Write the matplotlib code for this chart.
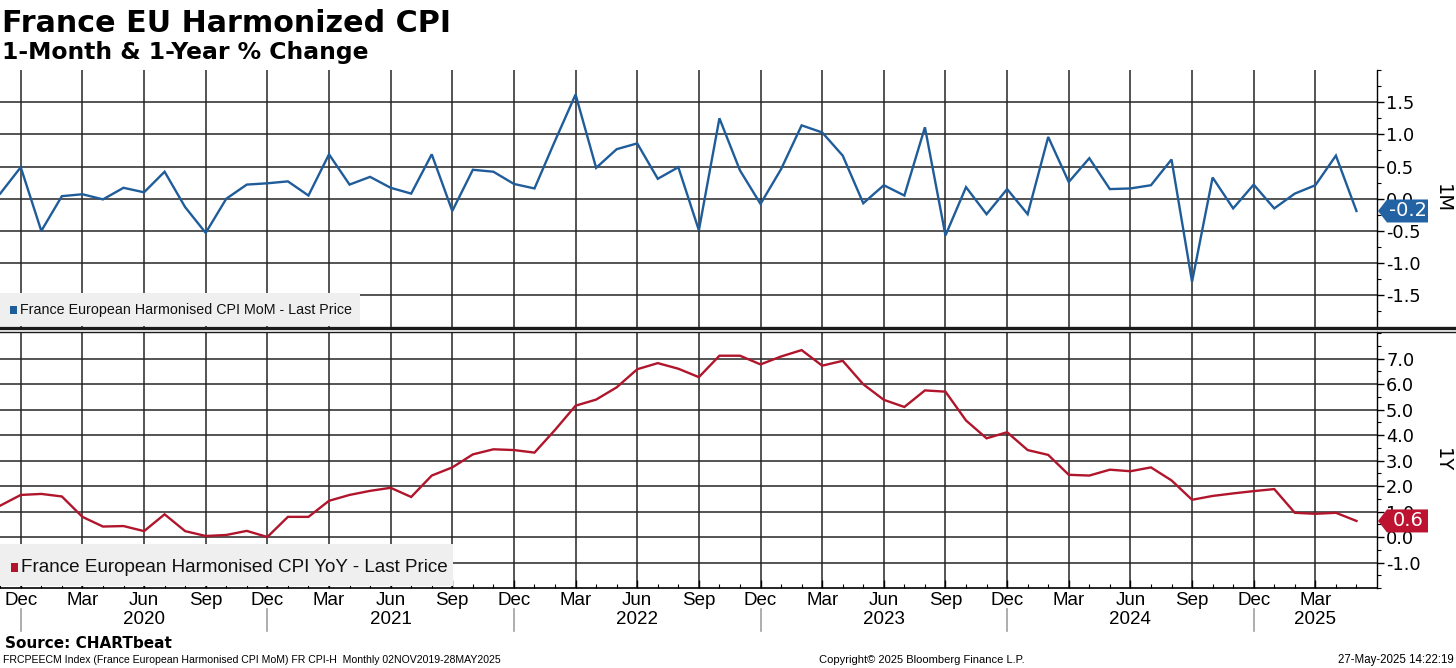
import matplotlib
matplotlib.use("Agg")
import matplotlib.pyplot as plt
from matplotlib.lines import Line2D
from matplotlib.patches import Polygon, Rectangle
import numpy as np
import pandas as pd

W, H = 1456, 668

# monthly observations, Nov 2019 .. May 2025
months = pd.period_range("2019-11", "2025-05", freq="M")

mom = [0.08, 0.49,
       -0.50, 0.04, 0.07, -0.01, 0.17, 0.10, 0.42, -0.13, -0.53, 0.00, 0.22, 0.24,
       0.27, 0.05, 0.69, 0.22, 0.34, 0.17, 0.08, 0.69, -0.19, 0.45, 0.42, 0.23,
       0.16, 0.90, 1.62, 0.48, 0.77, 0.86, 0.31, 0.49, -0.49, 1.25, 0.44, -0.08,
       0.46, 1.14, 1.03, 0.67, -0.07, 0.21, 0.05, 1.11, -0.57, 0.18, -0.24, 0.15,
       -0.24, 0.96, 0.26, 0.63, 0.15, 0.16, 0.21, 0.61, -1.29, 0.33, -0.15, 0.22,
       -0.15, 0.08, 0.21, 0.67, -0.19]

yoy = [1.23, 1.65,
       1.69, 1.59, 0.79, 0.41, 0.43, 0.23, 0.89, 0.23, 0.04, 0.08, 0.24, 0.00,
       0.79, 0.79, 1.42, 1.65, 1.81, 1.93, 1.57, 2.41, 2.73, 3.24, 3.44, 3.41,
       3.31, 4.20, 5.15, 5.39, 5.87, 6.58, 6.82, 6.60, 6.27, 7.11, 7.11, 6.77,
       7.08, 7.33, 6.72, 6.91, 5.99, 5.38, 5.10, 5.75, 5.70, 4.57, 3.87, 4.11,
       3.41, 3.22, 2.44, 2.41, 2.64, 2.58, 2.73, 2.22, 1.46, 1.61, 1.71, 1.80,
       1.88, 0.95, 0.91, 0.95, 0.63]

mom_ticks = [-1.5, -1.0, -0.5, 0.0, 0.5, 1.0, 1.5]
yoy_ticks = [-1.0, 0.0, 1.0, 2.0, 3.0, 4.0, 5.0, 6.0, 7.0]

mom_label = "France European Harmonised CPI MoM - Last Price"
yoy_label = "France European Harmonised CPI YoY - Last Price"

BLUE = "#1f5c9a"
RED = "#b0152c"
GRID = "#262626"
TICK_FONT = "DejaVu Sans"
AXIS_FONT = "Liberation Sans"
NARROW = ["Liberation Sans Narrow", "Liberation Sans", "DejaVu Sans"]

# pixel boxes of the two panels: (left, right, top, bottom)
TOP_BOX = (0, 1377, 70, 327.5)
BOT_BOX = (0, 1377, 331.5, 588)


def fig_xy(px, py):
    return px / W, 1 - py / H


def ax_xy(box, px, py):
    x0, x1, yt, yb = box
    return (px - x0) / (x1 - x0), (yb - py) / (yb - yt)


def make_axes(fig, box):
    x0, x1, yt, yb = box
    return fig.add_axes([x0 / W, 1 - yb / H, (x1 - x0) / W, (yb - yt) / H])


def style_panel(ax, yticks, minor_step, ylim, quarter_idx):
    ax.set_xlim(-0.01, 67)
    ax.set_ylim(*ylim)
    ax.set_axisbelow(True)
    ax.yaxis.tick_right()
    ax.set_yticks(yticks)
    ax.set_yticklabels([f"{v:.1f}" for v in yticks], fontfamily=TICK_FONT)
    ax.set_yticks(np.arange(yticks[0] - minor_step * 2, yticks[-1] + minor_step * 3,
                            minor_step), minor=True)
    ax.tick_params(axis="y", which="major", direction="out", length=5, width=1,
                   pad=1.5, labelsize=12.8, right=True, left=False, colors="black")
    ax.tick_params(axis="y", which="minor", direction="out", length=3, width=0.8,
                   right=True, left=False)
    ax.set_xticks(quarter_idx)
    ax.grid(True, which="major", color=GRID, lw=1.1)
    for side in ("left", "top"):
        ax.spines[side].set_visible(False)
    ax.spines["right"].set_color("black")
    ax.spines["right"].set_linewidth(1.0)
    ax.spines["bottom"].set_color("black")
    ax.spines["bottom"].set_linewidth(1.2)


def legend_box(ax, box, rect, square, text, color, size):
    lx0, ly0 = ax_xy(box, rect[0], rect[3])
    lx1, ly1 = ax_xy(box, rect[2], rect[1])
    ax.add_patch(Rectangle((lx0, ly0), lx1 - lx0, ly1 - ly0, transform=ax.transAxes,
                           facecolor="#efefef", edgecolor="none", zorder=3))
    sx0, sy0 = ax_xy(box, square[0], square[3])
    sx1, sy1 = ax_xy(box, square[2], square[1])
    ax.add_patch(Rectangle((sx0, sy0), sx1 - sx0, sy1 - sy0, transform=ax.transAxes,
                           facecolor=color, edgecolor="none", zorder=4))
    tx, ty = ax_xy(box, square[2] + 3, (square[1] + square[3]) / 2)
    ax.text(tx, ty, text, transform=ax.transAxes, ha="left", va="center",
            fontsize=size, fontfamily=AXIS_FONT, color="#111111", zorder=4)


def value_tag(fig, ax, value, color):
    # pentagon pointing at the right axis, centred on the last value
    yc = H - ax.transData.transform((0, value))[1]
    tip, left, right, half = 1378, 1387, 1428, 11.5
    pts = [(tip, yc), (left, yc - half), (right, yc - half),
           (right, yc + half), (left, yc + half)]
    fig.patches.append(Polygon([fig_xy(x, y) for x, y in pts], closed=True,
                               transform=fig.transFigure, facecolor=color,
                               edgecolor="none", zorder=10))
    tx, ty = fig_xy((left + right) / 2 + 1, yc)
    fig.text(tx, ty, f"{value:.1f}", ha="center", va="center", color="white",
             fontsize=14, fontfamily=TICK_FONT, zorder=11)


x = np.arange(len(months))
axis_months = pd.period_range("2019-11", "2025-05", freq="M")
quarter_idx = [i for i, p in enumerate(axis_months) if p.month in (12, 3, 6, 9)]
quarter_lab = [axis_months[i].strftime("%b") for i in quarter_idx]
dec_idx = [i for i, p in enumerate(axis_months) if p.month == 12]

fig = plt.figure(figsize=(W / 100, H / 100), dpi=100)
ax_top = make_axes(fig, TOP_BOX)
ax_bot = make_axes(fig, BOT_BOX)

# --- top: 1-month change
style_panel(ax_top, mom_ticks, 0.25, (-1.81, 1.93), quarter_idx)
ax_top.tick_params(axis="x", length=0, labelbottom=False)
ax_top.plot(x, mom, color=BLUE, lw=1.7, zorder=5, solid_joinstyle="miter")
legend_box(ax_top, TOP_BOX, (0, 293, 360, 326), (10, 306, 17, 314),
           mom_label, BLUE, 10.3)
ax_top.text(*ax_xy(TOP_BOX, 1442, 199), "1M", transform=ax_top.transAxes,
            rotation=270, ha="center", va="center", fontsize=14,
            fontfamily=TICK_FONT)

# --- bottom: 1-year change
style_panel(ax_bot, yoy_ticks, 0.5, (-1.68, 8.06), quarter_idx)
ax_bot.set_xticklabels(quarter_lab, fontfamily=AXIS_FONT)
ax_bot.set_xticks(np.arange(0, 67), minor=True)
ax_bot.tick_params(axis="x", which="major", direction="in", length=6, width=1,
                   pad=3, labelsize=13.5, top=False)
ax_bot.tick_params(axis="x", which="minor", direction="in", length=3, width=0.8,
                   top=False)
ax_bot.plot(x, yoy, color=RED, lw=1.7, zorder=5, solid_joinstyle="miter")
legend_box(ax_bot, BOT_BOX, (0, 544, 453, 586), (11, 563, 18, 572),
           yoy_label, RED, 13.6)
ax_bot.text(*ax_xy(BOT_BOX, 1442, 460), "1Y", transform=ax_bot.transAxes,
            rotation=270, ha="center", va="center", fontsize=14,
            fontfamily=TICK_FONT)

# year row under the month labels
bounds = dec_idx + [67]
for a, b in zip(bounds[:-1], bounds[1:]):
    yr = axis_months[a].year + 1
    ax_bot.text((a + b) / 2, ax_xy(BOT_BOX, 0, 620)[1], str(yr),
                transform=ax_bot.get_xaxis_transform(), ha="center", va="center",
                fontsize=13.5, fontfamily=AXIS_FONT)
for d in dec_idx:
    ax_bot.add_line(Line2D([d, d], [ax_xy(BOT_BOX, 0, 609)[1], ax_xy(BOT_BOX, 0, 631)[1]],
                           transform=ax_bot.get_xaxis_transform(), color="#a0a0a0",
                           lw=1.2, clip_on=False))

# double separator between the panels
for py, lw in ((327.5, 2.4), (331.5, 1.0)):
    fig.add_artist(Line2D([0, 1], [fig_xy(0, py)[1]] * 2, transform=fig.transFigure,
                          color="#1a1a1a", lw=lw))

value_tag(fig, ax_top, mom[-1], "#2363a3")
value_tag(fig, ax_bot, yoy[-1], "#bd1330")

# titles and footer
fig.text(*fig_xy(2, 31.5), "France EU Harmonized CPI", fontsize=21.7, fontweight="bold",
         fontfamily="DejaVu Sans", va="baseline", ha="left")
fig.text(*fig_xy(2, 59.5), "1-Month & 1-Year % Change", fontsize=16.9,
         fontweight="bold", fontfamily="DejaVu Sans", va="baseline", ha="left")
fig.text(*fig_xy(5, 643), "Source: CHARTbeat", fontsize=11, fontweight="bold",
         fontfamily="DejaVu Sans", va="center", ha="left")
fig.text(*fig_xy(3, 660),
         "FRCPEECM Index (France European Harmonised CPI MoM) FR CPI-H  Monthly "
         "02NOV2019-28MAY2025", fontsize=7.6, family=NARROW, va="center", ha="left")
fig.text(*fig_xy(922, 660), "Copyright\u00a9 2025 Bloomberg Finance L.P.",
         fontsize=8.0, family=NARROW, va="center", ha="center")
fig.text(*fig_xy(1454, 660), "27-May-2025 14:22:19", fontsize=8.3, family=NARROW,
         va="center", ha="right")

fig.savefig("out.png", dpi=100, facecolor="white")
